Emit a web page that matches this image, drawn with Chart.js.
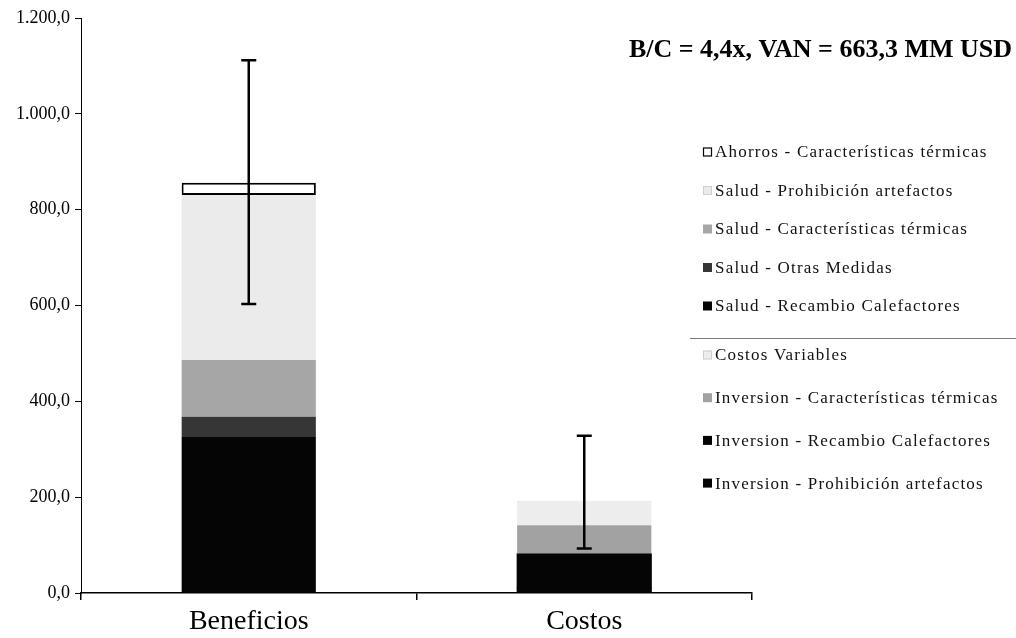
<!DOCTYPE html>
<html>
<head>
<meta charset="utf-8">
<script src="https://cdn.jsdelivr.net/npm/chart.js@4.4.0/dist/chart.umd.min.js"></script>
<style>
  html, body { margin: 0; padding: 0; background: #ffffff; }
  #wrap { width: 1016px; height: 638px; position: relative; }
</style>
</head>
<body>
<div id="wrap"><canvas id="c" width="1016" height="638"></canvas></div>
<script>
// ---- data ----
const categories = ["Beneficios", "Costos"];
const invProhibicion = [0, 10.0];
const invRecambio = [0, 71.4];
const invCaracteristicas = [0, 59.9];
const costosVariables = [0, 51.3];
const saludRecambio = [325.5, 0];
const saludOtras = [42.4, 0];
const saludCaracteristicas = [118.3, 0];
const saludProhibicion = [344.3, 0];
const ahorrosCaracteristicas = [25.7, 0];
const errLow = [603, 93];
const errHigh = [1112, 328];
const yTicks = [0, 200, 400, 600, 800, 1000, 1200];
const titleText = "B/C = 4,4x, VAN = 663,3 MM USD";

function fmt(v) {
  const s = Math.round(v).toString().replace(/\B(?=(\d{3})+(?!\d))/g, ".");
  return s + ",0";
}

const SERIF = "'Liberation Serif', 'DejaVu Serif', serif";

const datasets = [
  { label: "Inversion - Prohibición artefactos", data: invProhibicion, backgroundColor: "#050505", inflateAmount: 0.5 },
  { label: "Inversion - Recambio Calefactores", data: invRecambio, backgroundColor: "#050505", inflateAmount: 0.5 },
  { label: "Inversion - Características térmicas", data: invCaracteristicas, backgroundColor: "#a2a2a2" },
  { label: "Costos Variables", data: costosVariables, backgroundColor: "#ededed" },
  { label: "Salud - Recambio Calefactores", data: saludRecambio, backgroundColor: "#050505" },
  { label: "Salud - Otras Medidas", data: saludOtras, backgroundColor: "#363636" },
  { label: "Salud - Características térmicas", data: saludCaracteristicas, backgroundColor: "#a6a6a6" },
  { label: "Salud - Prohibición artefactos", data: saludProhibicion, backgroundColor: "#ebebeb" },
  { label: "Ahorros - Características térmicas", data: ahorrosCaracteristicas, backgroundColor: "#ffffff",
    borderColor: "#000000", borderWidth: 2, borderSkipped: false }
];

const errorBars = {
  id: "errorBars",
  afterDatasetsDraw(chart) {
    const { ctx, scales: { x, y } } = chart;
    ctx.save();
    ctx.strokeStyle = "#000";
    ctx.lineWidth = 2.5;
    categories.forEach((c, i) => {
      const px = x.getPixelForValue(i);
      const yl = y.getPixelForValue(errLow[i]);
      const yh = y.getPixelForValue(errHigh[i]);
      ctx.beginPath();
      ctx.moveTo(px, yl); ctx.lineTo(px, yh);
      ctx.moveTo(px - 7.5, yl); ctx.lineTo(px + 7.5, yl);
      ctx.moveTo(px - 7.5, yh); ctx.lineTo(px + 7.5, yh);
      ctx.stroke();
    });
    ctx.restore();
  }
};

const customLegend = {
  id: "customLegend",
  afterDraw(chart) {
    const ctx = chart.ctx;
    ctx.save();
    // title
    ctx.fillStyle = "#000";
    ctx.font = "bold 26px " + SERIF;
    ctx.textAlign = "right";
    ctx.textBaseline = "middle";
    ctx.fillText(titleText, 1012, 50);
    // legend items, top to bottom = reverse dataset order
    const items = chart.data.datasets.slice().reverse();
    ctx.font = "17px " + SERIF;
    try { ctx.letterSpacing = "1.2px"; } catch (e) {}
    ctx.textAlign = "left";
    items.forEach((ds, k) => {
      let yy;
      if (k < 5) yy = 152 + k * 38.5;
      else yy = 355 + (k - 5) * 42.7;
      const mx = 703, ms = 9;
      ctx.fillStyle = ds.backgroundColor;
      ctx.fillRect(mx, yy - ms / 2, ms, ms);
      if (ds.label.startsWith("Ahorros")) {
        ctx.strokeStyle = "#000"; ctx.lineWidth = 1.2;
        ctx.strokeRect(mx + 0.5, yy - ms / 2 + 0.5, ms - 1, ms - 1);
      } else if (ds.backgroundColor === "#ededed" || ds.backgroundColor === "#ebebeb") {
        ctx.strokeStyle = "#cfcfcf"; ctx.lineWidth = 1;
        ctx.strokeRect(mx + 0.5, yy - ms / 2 + 0.5, ms - 1, ms - 1);
      }
      ctx.fillStyle = "#111";
      ctx.fillText(ds.label, mx + ms + 3, yy + 1);
    });
    try { ctx.letterSpacing = "0px"; } catch (e) {}
    // divider
    ctx.strokeStyle = "#7a7a7a";
    ctx.lineWidth = 1;
    ctx.beginPath();
    ctx.moveTo(690, 338.5); ctx.lineTo(1016, 338.5);
    ctx.stroke();
    ctx.restore();
  }
};

new Chart(document.getElementById("c"), {
  type: "bar",
  data: { labels: categories, datasets },
  options: {
    responsive: false,
    animation: false,
    devicePixelRatio: 1,
    layout: { padding: { left: 0, right: 264, top: 18, bottom: 0 } },
    plugins: { legend: { display: false }, tooltip: { enabled: false }, title: { display: false } },
    datasets: { bar: { barPercentage: 0.4, categoryPercentage: 1.0 } },
    scales: {
      x: {
        stacked: true,
        offset: true,
        grid: { display: true, offset: true, drawOnChartArea: false, drawTicks: true, tickLength: 7, color: "#000", lineWidth: 1.5 },
        border: { display: true, color: "#000", width: 1.5 },
        ticks: { color: "#000", font: { family: SERIF, size: 28 }, padding: 5 },
        afterFit(s) { s.height = 45; }
      },
      y: {
        stacked: true,
        min: 0, max: 1200,
        afterBuildTicks(s) { s.ticks = yTicks.map(v => ({ value: v })); },
        grid: { display: true, drawOnChartArea: false, drawTicks: true, tickLength: 6, color: "#000", lineWidth: 1 },
        border: { display: true, color: "#000", width: 1 },
        ticks: { color: "#000", font: { family: SERIF, size: 18 }, padding: 5, callback: (v) => fmt(v) },
        afterFit(s) { s.width = 81; }
      }
    }
  },
  plugins: [errorBars, customLegend]
});
</script>
</body>
</html>
